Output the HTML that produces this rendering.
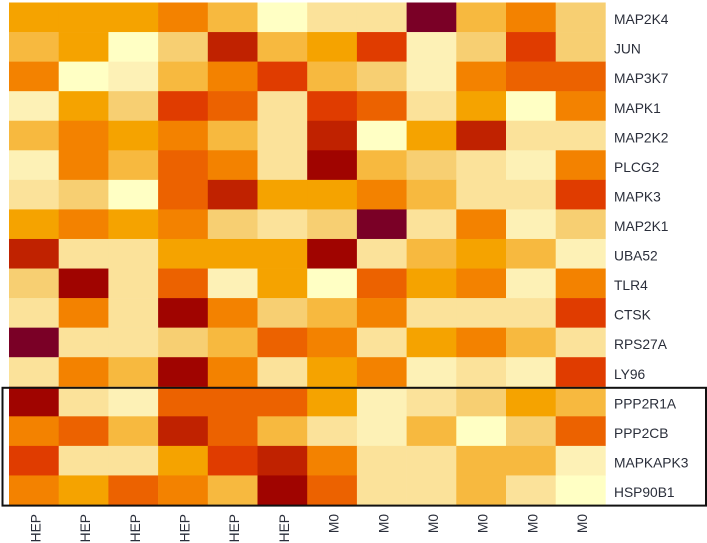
<!DOCTYPE html>
<html lang="en">
<head>
<meta charset="utf-8">
<title>Gene expression heatmap</title>
<style>
html,body{margin:0;padding:0;background:#fff;width:707px;height:543px;overflow:hidden}
svg{display:block}
text{font-family:"Liberation Sans",sans-serif;font-size:13.8px;fill:#2a2e3a}
#cells{filter:blur(.35px)}
#row-labels,#col-labels{filter:blur(.3px)}
</style>
</head>
<body>
<svg id="chart" width="707" height="543" viewBox="0 0 707 543" xmlns="http://www.w3.org/2000/svg">
<g id="cells"></g>
<g id="row-labels"></g>
<g id="col-labels"></g>
<rect x="2.5" y="387.8" width="703.5" height="117.8" fill="none" stroke="#111" stroke-width="2"></rect>
</svg>
<script>
const genes = ["MAP2K4","JUN","MAP3K7","MAPK1","MAP2K2","PLCG2","MAPK3","MAP2K1","UBA52","TLR4","CTSK","RPS27A","LY96","PPP2R1A","PPP2CB","MAPKAPK3","HSP90B1"];
const samples = ["HEP","HEP","HEP","HEP","HEP","HEP","M0","M0","M0","M0","M0","M0"];
const expression = [
  [5,5,5,6,4,0,2,2,11,4,6,3],
  [4,5,0,3,9,4,5,8,1,3,8,3],
  [6,0,1,4,6,8,4,3,1,6,7,7],
  [1,5,3,8,7,2,8,7,2,5,0,6],
  [4,6,5,6,4,2,9,0,5,9,2,2],
  [1,6,4,7,6,2,10,4,3,2,1,6],
  [2,3,0,7,9,5,5,6,4,2,2,8],
  [5,6,5,6,3,2,3,11,2,6,1,3],
  [9,2,2,5,5,5,10,2,4,5,4,1],
  [3,10,2,7,1,5,0,7,5,6,1,6],
  [2,6,2,10,6,3,4,6,2,2,2,8],
  [11,2,2,3,4,7,6,2,5,6,4,2],
  [2,6,4,10,6,2,5,6,1,2,1,8],
  [10,2,1,7,7,7,5,1,2,3,5,4],
  [6,7,4,9,7,4,2,1,4,0,3,7],
  [8,2,2,5,8,9,6,2,2,4,4,1],
  [6,5,7,6,4,10,7,2,2,4,2,0]
];
const palette = ["#FFFFC4","#FDF1B6","#FBE29A","#F7CF72","#F7B93F","#F5A300","#F38200","#EC6200","#E03C00","#C02200","#A00400","#7A0026"];

const NS = "http://www.w3.org/2000/svg";
const plot = {left: 9, right: 605.4, top: 2.5, bottom: 505};
const xScale = i => plot.left + i * (plot.right - plot.left) / samples.length;
const yScale = i => plot.top + i * (plot.bottom - plot.top) / genes.length;
const colorScale = v => palette[Math.max(0, Math.min(palette.length - 1, Math.round(v)))];

const cellsGroup = document.getElementById("cells");
const rowGroup = document.getElementById("row-labels");
const colGroup = document.getElementById("col-labels");

expression.forEach((row, r) => {
  row.forEach((value, c) => {
    const cell = document.createElementNS(NS, "rect");
    
    
    cell.setAttribute("x", xScale(c));
    cell.setAttribute("y", yScale(r));
    cell.setAttribute("width", xScale(c + 1) - xScale(c) + 0.3);
    cell.setAttribute("height", yScale(r + 1) - yScale(r) + 0.3);
    cell.setAttribute("fill", colorScale(value));
    cellsGroup.appendChild(cell);
  });
});

genes.forEach((gene, r) => {
  const label = document.createElementNS(NS, "text");
  
  
  label.setAttribute("x", 614);
  label.setAttribute("y", (yScale(r) + yScale(r + 1)) / 2 + 6.8);
  label.textContent = gene;
  rowGroup.appendChild(label);
});

samples.forEach((sample, c) => {
  const cx = (xScale(c) + xScale(c + 1)) / 2 + 6.5;
  const label = document.createElementNS(NS, "text");
  
  
  label.setAttribute("text-anchor", "end");
  label.setAttribute("transform", "translate(" + cx + ",514) rotate(-90)");
  label.textContent = sample;
  colGroup.appendChild(label);
});
</script>
</body>
</html>
